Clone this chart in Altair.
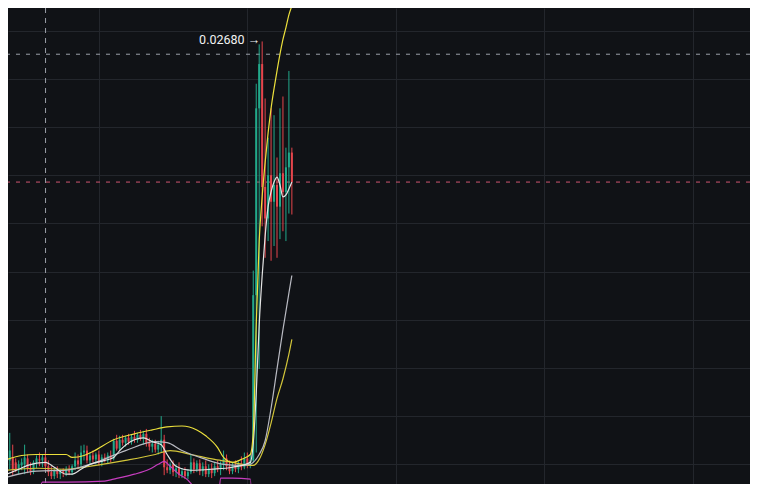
import altair as alt
import pandas as pd

# ---------------- candle data (index, OHLC prices) ----------------
idx = list(range(97))
open_ = [0.00530, 0.00550, 0.00565, 0.00540, 0.00510, 0.00525, 0.00530, 0.00560, 0.00510, 0.00495,
         0.00540, 0.00555, 0.00550, 0.00565, 0.00520, 0.00490, 0.00470, 0.00500, 0.00480, 0.00495,
         0.00485, 0.00505, 0.00490, 0.00520, 0.00550, 0.00530, 0.00590, 0.00600, 0.00550, 0.00575,
         0.00555, 0.00580, 0.00540, 0.00565, 0.00550, 0.00575, 0.00560, 0.00650, 0.00610, 0.00655,
         0.00640, 0.00665, 0.00645, 0.00670, 0.00655, 0.00680, 0.00660, 0.00685, 0.00640, 0.00620,
         0.00635, 0.00605, 0.00630, 0.00655, 0.00515, 0.00500, 0.00530, 0.00490, 0.00510, 0.00475,
         0.00495, 0.00470, 0.00490, 0.00540, 0.00505, 0.00535, 0.00495, 0.00520, 0.00480, 0.00510,
         0.00485, 0.00520, 0.00505, 0.00530, 0.00560, 0.00520, 0.00495, 0.00525, 0.00505, 0.00535,
         0.00515, 0.00560, 0.00530,
         0.00550, 0.01390, 0.02340, 0.02565, 0.01940, 0.01780, 0.02000, 0.01865, 0.01950, 0.01840,
         0.02010, 0.01915, 0.02040, 0.02115]
high = [0.00580, 0.00690, 0.00630, 0.00560, 0.00550, 0.00560, 0.00630, 0.00580, 0.00540, 0.00550,
        0.00575, 0.00590, 0.00580, 0.00590, 0.00550, 0.00520, 0.00510, 0.00520, 0.00505, 0.00510,
        0.00520, 0.00525, 0.00530, 0.00590, 0.00580, 0.00625, 0.00630, 0.00625, 0.00590, 0.00600,
        0.00590, 0.00600, 0.00580, 0.00585, 0.00590, 0.00600, 0.00660, 0.00680, 0.00675, 0.00680,
        0.00675, 0.00685, 0.00680, 0.00700, 0.00690, 0.00705, 0.00700, 0.00710, 0.00665, 0.00655,
        0.00655, 0.00650, 0.00775, 0.00680, 0.00555, 0.00540, 0.00550, 0.00530, 0.00540, 0.00510,
        0.00515, 0.00505, 0.00580, 0.00560, 0.00550, 0.00555, 0.00540, 0.00550, 0.00530, 0.00535,
        0.00540, 0.00550, 0.00545, 0.00600, 0.00580, 0.00550, 0.00540, 0.00550, 0.00545, 0.00570,
        0.00590, 0.00590, 0.00580,
        0.01515, 0.02465, 0.02665, 0.02680, 0.02390, 0.02190, 0.02340, 0.02305, 0.02090, 0.02340,
        0.02400, 0.02140, 0.02530, 0.02140]
low = [0.00500, 0.00505, 0.00475, 0.00490, 0.00480, 0.00500, 0.00480, 0.00485, 0.00475, 0.00480,
       0.00510, 0.00520, 0.00515, 0.00500, 0.00470, 0.00455, 0.00455, 0.00460, 0.00455, 0.00465,
       0.00470, 0.00475, 0.00475, 0.00500, 0.00505, 0.00515, 0.00550, 0.00535, 0.00530, 0.00540,
       0.00530, 0.00525, 0.00520, 0.00540, 0.00535, 0.00540, 0.00550, 0.00600, 0.00600, 0.00625,
       0.00620, 0.00630, 0.00630, 0.00640, 0.00640, 0.00650, 0.00630, 0.00620, 0.00600, 0.00590,
       0.00590, 0.00580, 0.00590, 0.00475, 0.00485, 0.00480, 0.00470, 0.00465, 0.00460, 0.00460,
       0.00455, 0.00455, 0.00480, 0.00485, 0.00490, 0.00475, 0.00470, 0.00465, 0.00465, 0.00460,
       0.00470, 0.00490, 0.00475, 0.00500, 0.00500, 0.00480, 0.00480, 0.00490, 0.00485, 0.00500,
       0.00505, 0.00510, 0.00510,
       0.00540, 0.00590, 0.01015, 0.01740, 0.01580, 0.01665, 0.01565, 0.01640, 0.01580, 0.01675,
       0.01715, 0.01665, 0.01805, 0.01800]
close = [0.00550, 0.00600, 0.00500, 0.00505, 0.00530, 0.00540, 0.00565, 0.00510, 0.00495, 0.00540,
         0.00560, 0.00550, 0.00565, 0.00520, 0.00490, 0.00470, 0.00500, 0.00480, 0.00495, 0.00485,
         0.00505, 0.00490, 0.00520, 0.00550, 0.00530, 0.00590, 0.00600, 0.00550, 0.00575, 0.00555,
         0.00580, 0.00540, 0.00565, 0.00550, 0.00575, 0.00560, 0.00650, 0.00610, 0.00655, 0.00640,
         0.00665, 0.00645, 0.00670, 0.00655, 0.00680, 0.00660, 0.00685, 0.00640, 0.00620, 0.00635,
         0.00605, 0.00630, 0.00655, 0.00515, 0.00500, 0.00530, 0.00490, 0.00510, 0.00475, 0.00495,
         0.00470, 0.00490, 0.00540, 0.00505, 0.00535, 0.00495, 0.00520, 0.00480, 0.00510, 0.00485,
         0.00520, 0.00505, 0.00530, 0.00560, 0.00520, 0.00495, 0.00525, 0.00505, 0.00535, 0.00515,
         0.00560, 0.00530, 0.00550,
         0.01390, 0.02340, 0.02565, 0.01940, 0.01780, 0.02000, 0.01865, 0.01950, 0.01840, 0.02010,
         0.01915, 0.02040, 0.02115, 0.01965]

# ---------------- indicator lines (index, price) ----------------
ma7_idx = [0, 4, 7, 13, 16, 20, 22, 25, 28, 33, 36, 38, 43, 46, 49, 52, 54, 57, 62, 69, 76, 82,
           83, 84, 85, 86, 87, 88, 89, 90, 91, 92, 93, 94, 95, 96]
ma7_val = [0.00480, 0.00505, 0.00525, 0.00540, 0.00515, 0.00480, 0.00480, 0.00505, 0.00530, 0.00550,
           0.00565, 0.00600, 0.00655, 0.00665, 0.00645, 0.00630, 0.00580, 0.00520, 0.00500, 0.00505,
           0.00515, 0.00540,
           0.00640, 0.00890, 0.01240, 0.01490, 0.01690, 0.01840, 0.01915, 0.01965, 0.01990, 0.01950,
           0.01890, 0.01900, 0.01930, 0.01965]

ma25_idx = [0, 10, 20, 29, 40, 50, 54, 59, 66, 73, 79, 82, 83, 85, 87, 89, 91, 93, 95, 96]
ma25_val = [0.00465, 0.00495, 0.00500, 0.00535, 0.00600, 0.00645, 0.00640, 0.00600, 0.00560, 0.00530,
            0.00525, 0.00530, 0.00540, 0.00580, 0.00650, 0.00815, 0.01015, 0.01215, 0.01400, 0.01490]

ma99_idx = [0, 10, 20, 30, 40, 50, 55, 62, 70, 76, 82, 83, 85, 87, 89, 91, 93, 95, 96]
ma99_val = [0.00500, 0.00510, 0.00505, 0.00525, 0.00550, 0.00580, 0.00600, 0.00580, 0.00555, 0.00540,
            0.00525, 0.00525, 0.00555, 0.00630, 0.00740, 0.00865, 0.00965, 0.01090, 0.01165]

bbu_idx = [0, 5, 10, 20, 22, 26, 29, 36, 43, 49, 54, 59, 64, 67, 71, 73, 76, 79, 82,
           83, 84, 85, 86, 87, 88, 89, 90, 91, 92, 93, 94, 95, 96]
bbu_val = [0.00555, 0.00575, 0.00580, 0.00580, 0.00565, 0.00575, 0.00595, 0.00655, 0.00685, 0.00705,
           0.00720, 0.00725, 0.00705, 0.00675, 0.00615, 0.00565, 0.00540, 0.00555, 0.00580,
           0.00690, 0.01240, 0.01665, 0.01890, 0.02065, 0.02215, 0.02340, 0.02440, 0.02530, 0.02615,
           0.02690, 0.02750, 0.02815, 0.02860]

bbl_idx = [11, 12, 20, 33, 36, 39, 43, 48, 51, 53, 55, 58, 61, 63, 66, 71, 72, 76, 82, 83]
bbl_val = [0.00390, 0.00440, 0.00440, 0.00445, 0.00455, 0.00465, 0.00480, 0.00505, 0.00530, 0.00545,
           0.00520, 0.00480, 0.00450, 0.00415, 0.00365, 0.00300, 0.00460, 0.00460, 0.00455, 0.00150]

# reference levels
cross_idx = [13.05]
cursor_price = [0.02615]
last_price = [0.01965]
high_idx = [86]
high_price = [0.02680]
high_label = ["0.02680 \u2192"]

# grid positions
x_grid = [31, 81, 131, 181, 231]
y_grid = [0.02735, 0.02490, 0.02245, 0.02000, 0.01755, 0.01510, 0.01265, 0.01020, 0.00775, 0.00530]

# ---------------- styling ----------------
BG = "#101216"
GRID = "#23262c"
UP = "#22a98b"
DOWN = "#e5454c"

xs = alt.Scale(domain=[2.09, 248.6], nice=False, zero=False)
ys = alt.Scale(domain=[0.0043, 0.0285], nice=False, zero=False)
xax = alt.Axis(values=x_grid, labels=False, ticks=False, domain=False, title=None,
               grid=True, gridColor=GRID, gridWidth=1)
yax = alt.Axis(values=y_grid, labels=False, ticks=False, domain=False, title=None,
               grid=True, gridColor=GRID, gridWidth=1)


def X(f):
    return alt.X(f, type="quantitative", scale=xs, axis=xax)


def Y(f):
    return alt.Y(f, type="quantitative", scale=ys, axis=yax)


candles = pd.DataFrame({"i": idx, "open": open_, "high": high, "low": low, "close": close})

dir_color = alt.condition("datum.close >= datum.open", alt.value(UP), alt.value(DOWN))

wicks = alt.Chart(candles).mark_rule(strokeWidth=1, clip=True).encode(
    x=X("i"), y=Y("low"), y2="high", color=dir_color)
bodies = alt.Chart(candles).mark_bar(size=2, clip=True).encode(
    x=X("i"), y=Y("open"), y2="close", color=dir_color)

series_list = [("bbl", bbl_idx, bbl_val, "#c63dbf"),
               ("ma99", ma99_idx, ma99_val, "#d2c53a"),
               ("ma25", ma25_idx, ma25_val, "#b9bac2"),
               ("ma7", ma7_idx, ma7_val, "#e4e4e4"),
               ("bbu", bbu_idx, bbu_val, "#ece03c")]
line_layers = []
for name, ii, vv, col in series_list:
    df = pd.DataFrame({"i": ii, "v": vv})
    line_layers.append(
        alt.Chart(df).mark_line(strokeWidth=1.2, interpolate="monotone", clip=True, color=col)
        .encode(x=X("i"), y=Y("v"))
    )

cursor_rule = alt.Chart(pd.DataFrame({"p": cursor_price})).mark_rule(
    strokeWidth=1, strokeDash=[4, 6], color="#9a9ea8", clip=True).encode(y=Y("p"))
last_rule = alt.Chart(pd.DataFrame({"p": last_price})).mark_rule(
    strokeWidth=1, strokeDash=[4, 6], color="#cc5570", clip=True).encode(y=Y("p"))

vline = alt.Chart(pd.DataFrame({"i": cross_idx})).mark_rule(
    strokeWidth=1, strokeDash=[5, 5], color="#9a9ea8", clip=True).encode(x=X("i"))

label = alt.Chart(pd.DataFrame({"i": high_idx, "p": high_price, "t": high_label})).mark_text(
    align="right", baseline="middle", dx=-2, dy=-1, fontSize=12.5, color="#f2f2f2",
    font="Roboto").encode(x=X("i"), y=Y("p"), text="t:N")

chart = alt.layer(cursor_rule, last_rule, vline, wicks, bodies, *line_layers, label).properties(
    width=742, height=476, padding=0,
    autosize=alt.AutoSizeParams(type="none"),
    background=BG,
).configure_view(stroke=None, fill=BG)

chart.save("out.html", embed_options={"renderer": "svg", "actions": False})
